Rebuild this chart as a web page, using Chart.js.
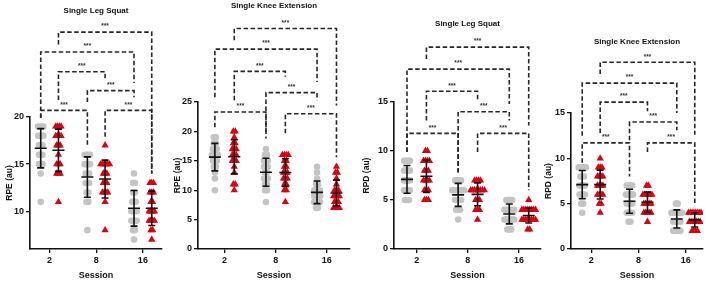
<!DOCTYPE html>
<html>
<head>
<meta charset="utf-8">
<script src="https://cdn.jsdelivr.net/npm/chart.js@4.4.1/dist/chart.umd.min.js"></script>
<style>
    body { margin: 0; background: #fff; }
    .panel { position: absolute; left: 0; top: 0; width: 708px; height: 281px; }
</style>
</head>
<body>
<div class="panel"><canvas id="c1"></canvas></div>
<div class="panel"><canvas id="c2"></canvas></div>
<div class="panel"><canvas id="c3"></canvas></div>
<div class="panel"><canvas id="c4"></canvas></div>
<script>
var sessions = ['2', '8', '16'];

// one list per session (2, 8, 16); grey = circles, red = triangles
var rpeSquatGrey = [
    [19, 19, 19, 19, 18, 18, 18, 18, 17, 17, 17, 16, 16, 16, 15, 15, 15, 14, 11],
    [16, 16, 16, 16, 15, 15, 15, 15, 14, 14, 14, 13, 13, 13, 12, 12, 11, 11, 8],
    [14, 13, 13, 12, 12, 11, 11, 11, 10, 10, 10, 10, 9, 9, 9, 9, 8, 8, 7]
];
var rpeSquatRed = [
    [19, 19, 19, 19, 18, 18, 18, 18, 17, 17, 17, 16, 15, 15, 15, 14, 14, 14, 11],
    [17, 15, 15, 15, 15, 15, 15, 14, 14, 14, 13, 13, 13, 12, 12, 12, 12, 11, 8],
    [13, 13, 13, 12, 12, 12, 11, 11, 10, 10, 10, 10, 9, 9, 9, 9, 8, 8, 7]
];
var rpeKneeGrey = [
    [19, 19, 18, 18, 17, 17, 17, 16, 16, 16, 16, 15, 15, 15, 14, 14, 13, 12, 10],
    [17, 16, 16, 15, 15, 15, 14, 14, 14, 13, 13, 12, 12, 12, 11, 11, 10, 10, 8],
    [14, 13, 12, 11, 11, 10, 10, 10, 10, 9, 9, 9, 9, 8, 8, 8, 8, 7, 7]
];
var rpeKneeRed = [
    [20, 20, 19, 18, 18, 17, 17, 17, 16, 16, 16, 15, 15, 15, 14, 13, 11, 11, 10],
    [16, 16, 16, 16, 15, 15, 14, 14, 13, 13, 13, 12, 12, 12, 11, 11, 10, 10, 8],
    [14, 13, 13, 12, 11, 10, 10, 10, 9, 9, 9, 9, 8, 8, 8, 7, 7, 7, 7]
];
var rpdSquatGrey = [
    [9, 9, 9, 9, 8, 8, 8, 8, 7, 7, 7, 7, 6, 6, 6, 6, 5, 5, 5],
    [7, 7, 7, 7, 6, 6, 6, 6, 6, 6, 6, 5, 5, 5, 5, 4, 4, 4, 3],
    [5, 5, 5, 5, 4, 4, 4, 4, 4, 4, 3, 3, 3, 3, 3, 3, 2, 2, 2]
];
var rpdSquatRed = [
    [10, 10, 9, 9, 9, 9, 8, 8, 8, 7, 7, 7, 7, 6, 6, 6, 5, 5, 5],
    [7, 7, 7, 7, 6, 6, 6, 6, 6, 6, 6, 6, 5, 5, 5, 4, 4, 4, 3],
    [5, 4, 4, 4, 4, 4, 4, 4, 4, 3, 3, 3, 3, 3, 3, 3, 3, 2, 2]
];
var rpdKneeGrey = [
    [9, 9, 9, 9, 9, 8, 8, 8, 7, 7, 7, 7, 6, 6, 6, 6, 5, 5, 4],
    [7, 7, 7, 7, 6, 6, 6, 6, 6, 5, 5, 5, 5, 4, 4, 4, 4, 3, 3],
    [5, 5, 4, 4, 4, 4, 4, 4, 4, 3, 3, 3, 3, 3, 2, 2, 2, 2, 2]
];
var rpdKneeRed = [
    [10, 9, 9, 9, 8, 8, 8, 8, 7, 7, 7, 7, 6, 6, 6, 6, 5, 5, 4],
    [7, 7, 6, 6, 6, 6, 6, 6, 5, 5, 5, 5, 5, 4, 4, 4, 4, 4, 3],
    [4, 4, 4, 4, 4, 4, 4, 4, 3, 3, 3, 3, 3, 3, 3, 2, 2, 2, 2]
];

var rpeSquatTicks = [10, 15, 20];
var rpeKneeTicks = [0, 5, 10, 15, 20, 25];
var rpdTicks = [0, 5, 10, 15];

// comparisons: [group a, group b, bracket level, leg end a, leg end b]
// groups: 0 grey-2, 1 red-2, 2 grey-8, 3 red-8, 4 grey-16, 5 red-16
var rpeSquatPairs = [
    [1, 5, 29.0, 27.7, 14.0], [0, 4, 26.9, 19.9, 23.6], [1, 3, 24.8, 21.8, 23.9],
    [2, 4, 22.8, 21.6, 22.1], [0, 2, 20.7, 19.9, 16.8], [3, 5, 20.7, 17.9, 14.0]
];
var rpeKneePairs = [
    [1, 5, 37.5, 35.5, 24.4], [0, 4, 34.0, 25.8, 28.4], [1, 3, 30.2, 25.3, 29.3],
    [2, 4, 26.6, 19.9, 25.3], [0, 2, 23.3, 20.7, 18.8], [3, 5, 23.0, 19.7, 15.6]
];
var rpdSquatPairs = [
    [1, 5, 20.6, 19.4, 12.6], [0, 4, 18.35, 9.9, 14.8], [1, 3, 16.1, 13.1, 15.2],
    [2, 4, 14.0, 7.8, 13.1], [0, 2, 11.8, 9.9, 7.8], [3, 5, 11.8, 9.9, 6.0]
];
var rpdKneePairs = [
    [1, 5, 20.6, 19.3, 12.6], [0, 4, 18.3, 12.5, 15.0], [1, 3, 16.2, 12.8, 15.2],
    [2, 4, 14.0, 12.0, 13.1], [0, 2, 11.7, 9.5, 8.0], [3, 5, 11.7, 10.7, 5.0]
];

var FONT = '"Liberation Sans", Arial, sans-serif';
var GREY = '#c4c4c4';
var RED = '#dc0010';
var OFF = 0.19;

// area = [left, right, top, bottom] of the plot box
var panels = [
    { id: 'c1', title: 'Single Leg Squat', yLabel: 'RPE (au)', grey: rpeSquatGrey, red: rpeSquatRed,
      ticks: rpeSquatTicks, pairs: rpeSquatPairs, yMin: 6, yMax: 20, xMin: -0.42, xMax: 2.41,
      area: [30, 162, 117, 249], yW: 25, titleY: 11 },
    { id: 'c2', title: 'Single Knee Extension', yLabel: 'RPE (au)', grey: rpeKneeGrey, red: rpeKneeRed,
      ticks: rpeKneeTicks, pairs: rpeKneePairs, yMin: 0, yMax: 25, xMin: -0.52, xMax: 2.455,
      area: [198, 350, 102, 249], yW: 25, titleY: 6 },
    { id: 'c3', title: 'Single Leg Squat', yLabel: 'RPD (au)', grey: rpdSquatGrey, red: rpdSquatRed,
      ticks: rpdTicks, pairs: rpdSquatPairs, yMin: 0, yMax: 15, xMin: -0.444, xMax: 2.43,
      area: [394, 541, 102, 249], yW: 32, titleY: 24 },
    { id: 'c4', title: 'Single Knee Extension', yLabel: 'RPD (au)', grey: rpdKneeGrey, red: rpdKneeRed,
      ticks: rpdTicks, pairs: rpdKneePairs, yMin: 0, yMax: 15, xMin: -0.427, xMax: 2.364,
      area: [571, 703, 113, 249], yW: 27, titleY: 42 }
];

function groupX(g) {
    return Math.floor(g / 2) + (g % 2 ? OFF : -OFF);
}

function meanSd(vals) {
    var m = vals.reduce(function (a, b) { return a + b; }, 0) / vals.length;
    var v = vals.reduce(function (a, b) { return a + (b - m) * (b - m); }, 0) / (vals.length - 1);
    return [m, Math.sqrt(v)];
}

function extrasPlugin(p) {
    return {
        id: 'extras',
        afterDatasetsDraw: function (chart) {
            // mean +/- SD
            var xs = chart.scales.x, ys = chart.scales.y, ctx = chart.ctx;
            ctx.save();
            ctx.strokeStyle = '#111';
            ctx.lineWidth = 1.6;
            [p.grey, p.red].forEach(function (series, side) {
                series.forEach(function (vals, s) {
                    var ms = meanSd(vals);
                    var px = xs.getPixelForValue(groupX(s * 2 + side));
                    var pm = ys.getPixelForValue(ms[0]);
                    var lo = ys.getPixelForValue(ms[0] - ms[1]);
                    var hi = ys.getPixelForValue(ms[0] + ms[1]);
                    ctx.beginPath();
                    ctx.moveTo(px, lo); ctx.lineTo(px, hi);
                    ctx.moveTo(px - 3.5, lo); ctx.lineTo(px + 3.5, lo);
                    ctx.moveTo(px - 3.5, hi); ctx.lineTo(px + 3.5, hi);
                    ctx.moveTo(px - 6, pm); ctx.lineTo(px + 6, pm);
                    ctx.stroke();
                });
            });
            ctx.restore();
        },
        afterDraw: function (chart) {
            var xs = chart.scales.x, ys = chart.scales.y, ctx = chart.ctx;
            var area = chart.chartArea;
            ctx.save();
            // significance brackets
            ctx.strokeStyle = '#262626';
            ctx.lineWidth = 1.6;
            ctx.setLineDash([4.5, 2.5]);
            p.pairs.forEach(function (b) {
                var xa = xs.getPixelForValue(groupX(b[0]));
                var xb = xs.getPixelForValue(groupX(b[1]));
                var yl = ys.getPixelForValue(b[2]);
                ctx.beginPath();
                ctx.moveTo(xa, ys.getPixelForValue(b[3]));
                ctx.lineTo(xa, yl);
                ctx.lineTo(xb, yl);
                ctx.lineTo(xb, ys.getPixelForValue(b[4]));
                ctx.stroke();
            });
            ctx.setLineDash([]);
            ctx.fillStyle = '#333';
            ctx.textAlign = 'center';
            ctx.textBaseline = 'middle';
            ctx.font = 'bold 6.5px ' + FONT;
            p.pairs.forEach(function (b) {
                var xm = (xs.getPixelForValue(groupX(b[0])) + xs.getPixelForValue(groupX(b[1]))) / 2;
                ctx.fillText('***', xm, ys.getPixelForValue(b[2]) - 5.5);
            });
            // panel title
            ctx.fillStyle = '#111';
            ctx.font = 'bold 8px ' + FONT;
            ctx.fillText(p.title, (area.left + area.right) / 2, p.titleY);
            ctx.restore();
        }
    };
}

function buildPoints(series, side) {
    var pts = [];
    series.forEach(function (vals, s) {
        var seen = {};
        vals.forEach(function (v) {
            var n = vals.filter(function (w) { return w === v; }).length;
            var k = seen[v] = (seen[v] || 0) + 1;
            pts.push({ x: groupX(s * 2 + side) + (k - 1 - (n - 1) / 2) * 0.038, y: v });
        });
    });
    return pts;
}

panels.forEach(function (p) {
    var ctx = document.getElementById(p.id).getContext('2d');
    var tickFont = { family: FONT, size: 9, weight: 'bold' };
    new Chart(ctx, {
        type: 'scatter',
        data: {
            datasets: [{
                data: buildPoints(p.grey, 0),
                pointStyle: 'circle',
                pointRadius: 3.3,
                backgroundColor: GREY,
                borderColor: GREY,
                borderWidth: 0
            }, {
                data: buildPoints(p.red, 1),
                pointStyle: 'triangle',
                pointRadius: 4.2,
                backgroundColor: RED,
                borderColor: RED,
                borderWidth: 0
            }]
        },
        options: {
            responsive: true,
            maintainAspectRatio: false,
            animation: false,
            events: [],
            layout: {
                padding: { left: p.area[0] - p.yW, right: 708 - p.area[1], top: p.area[2], bottom: 0 }
            },
            plugins: { legend: { display: false }, tooltip: { enabled: false } },
            scales: {
                x: {
                    type: 'linear',
                    min: p.xMin,
                    max: p.xMax,
                    afterBuildTicks: function (sc) {
                        sc.ticks = sessions.map(function (s, i) { return { value: i }; });
                    },
                    afterFit: function (sc) { sc.height = 281 - p.area[3]; },
                    ticks: {
                        callback: function (v) { return sessions[v]; },
                        color: '#111', font: tickFont, padding: 2, maxRotation: 0, autoSkip: false
                    },
                    grid: { display: true, drawOnChartArea: false, tickLength: 4, color: '#111', lineWidth: 1.3 },
                    border: { display: true, color: '#111', width: 1.6 },
                    title: { display: true, text: 'Session', color: '#111', font: tickFont, padding: 0 }
                },
                y: {
                    min: p.yMin,
                    max: p.yMax,
                    afterBuildTicks: function (sc) {
                        sc.ticks = p.ticks.map(function (v) { return { value: v }; });
                    },
                    afterFit: function (sc) { sc.width = p.yW; },
                    ticks: { color: '#111', font: tickFont, padding: 2 },
                    grid: { display: true, drawOnChartArea: false, tickLength: 4, color: '#111', lineWidth: 1.3 },
                    border: { display: true, color: '#111', width: 1.6 },
                    title: {
                        display: true, text: p.yLabel, color: '#111', padding: 0,
                        font: { family: FONT, size: 8.5, weight: 'bold' }
                    }
                }
            }
        },
        plugins: [extrasPlugin(p)]
    });
});
</script>
</body>
</html>
